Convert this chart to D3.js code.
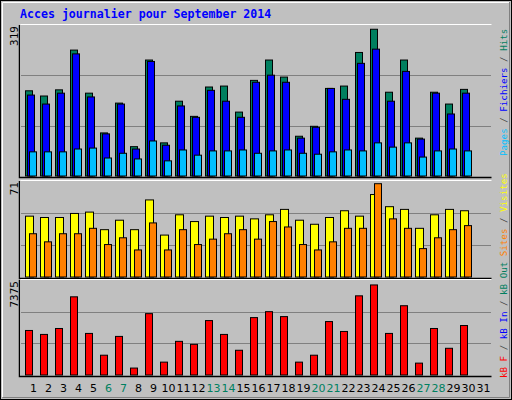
<!DOCTYPE html>
<html><head><meta charset="utf-8">
<script src="https://cdn.jsdelivr.net/npm/d3@7/dist/d3.min.js"></script>
<style>body{margin:0;background:#fff}svg{display:block}</style></head>
<body><svg id="c" width="512" height="400"></svg>
<script>
const days = d3.range(1,32).map(String);
const weekend = ["6","7","13","14","20","21","27","28"];
const hits  = [180,169,182,266,175,91,154,62,245,70,158,126,188,190,135,202,245,209,84,105,185,190,261,310,177,245,80,177,152,183,0];
const files = [171,152,175,258,167,89,152,57,242,65,148,124,181,158,124,198,213,198,80,103,185,162,238,268,158,221,78,175,131,175,0];
const pages = [51,51,51,57,59,38,48,36,74,32,55,44,53,53,55,48,53,55,48,46,51,55,53,70,61,70,40,53,57,53,0];
const visits= [45,44,44,47,48,35,42,35,57,31,46,41,45,44,45,43,46,50,42,39,44,49,45,61,52,50,36,46,50,49,0];
const sites = [32,26,32,32,36,24,29,20,40,20,35,24,28,32,35,28,41,37,24,20,26,36,36,69,43,36,21,29,35,38,0];
const kb    = [3457,3150,3611,6069,3227,1536,2996,538,4763,999,2612,2381,4225,3150,1920,4456,4917,4533,999,1536,4148,3380,6146,6991,3227,5378,922,3611,2074,3841,0];
const maxTop=319, maxMid=71, maxBot=7375;

const svg=d3.select("#c");
svg.append("rect").attr("width",512).attr("height",400).attr("fill","#c0c0c0");
svg.append("rect").attr("x",0.5).attr("y",0.5).attr("width",511).attr("height",399).attr("fill","none").attr("stroke","#000");
svg.append("path").attr("d","M2.5,397V2.5H509").attr("stroke","#fff").attr("fill","none");
svg.append("path").attr("d","M2.5,397.5H509.5V2").attr("stroke","#808080").attr("fill","none");

svg.append("text").attr("x",20).attr("y",18).attr("fill","#0000ff")
  .attr("font-family","DejaVu Sans Mono").attr("font-weight","bold").attr("font-size",11.6)
  .text("Acces journalier pour September 2014");

const x=d3.scaleBand().domain(days).range([25,490]).paddingInner(0).paddingOuter(0);
const L=20,R=491;
function panel(top,bot,max,label){
  const y=d3.scaleLinear().domain([0,max]).range([bot,top]);
  const g=svg.append("g");
  [1/3,2/3].forEach(f=>g.append("line").attr("x1",L).attr("x2",R).attr("y1",Math.round(y(max*f))+0.5).attr("y2",Math.round(y(max*f))+0.5).attr("stroke","#808080"));
  g.append("path").attr("d",`M${L+.5},${bot+1.5}V${top-.5}H${R+.5}`).attr("stroke","#fff").attr("fill","none");
  g.append("path").attr("d",`M${L-.5},${top}V${bot+1.5}H${R+.5}`).attr("stroke","#000").attr("fill","none").attr("stroke-width",1.5);
  svg.append("text").attr("transform",`translate(18,${top+1}) rotate(-90)`).attr("text-anchor","end")
    .attr("font-family","DejaVu Sans Mono").attr("font-size",11).text(label);
  return y;
}
function bars(y,data,off,w,color){
  svg.append("g").selectAll("rect").data(data.map((v,i)=>({d:days[i],v})).filter(o=>o.v>0)).join("rect")
   .attr("x",o=>x(o.d)+off+0.5).attr("width",w).attr("y",o=>y(o.v)).attr("height",o=>y(0)-y(o.v))
   .attr("fill",color).attr("stroke","#000").attr("stroke-width",1);
}
const yT=panel(25,176,maxTop,"319");
bars(yT,hits,0,7,"#007f5f");bars(yT,files,2,7,"#0000ff");bars(yT,pages,4,7,"#00bfff");
const yM=panel(181,277,maxMid,"71");
bars(yM,visits,0,8,"#ffff00");bars(yM,sites,4,7,"#ff8000");
const yB=panel(280,375,maxBot,"7375");
bars(yB,kb,0,7,"#ff0000");

svg.append("g").selectAll("text").data(days).join("text")
  .attr("x",d=>x(d)+8.5).attr("y",392).attr("text-anchor","middle")
  .attr("font-family","DejaVu Sans").attr("font-size",11)
  .attr("fill",d=>weekend.includes(d)?"#008060":"#000").text(d=>d);

function vlegend(yb,parts){
  const t=svg.append("text").attr("transform",`translate(507,${yb}) rotate(-90)`)
    .attr("font-family","DejaVu Sans Mono").attr("font-size",9.2);
  parts.forEach(p=>t.append("tspan").attr("fill",p[1]).text(p[0]));
}
vlegend(156,[["Pages","#00bfff"],[" / ","#404040"],["Fichiers","#0000ff"],[" / ","#404040"],["Hits","#007f5f"]]);
vlegend(378,[["kB F","#ff0000"],[" / ","#404040"],["kB In","#0000ff"],[" / ","#404040"],["kB Out ","#007f5f"],["Sites","#ff8000"],[" / ","#404040"],["Visites","#ffff00"]]);
</script></body></html>
